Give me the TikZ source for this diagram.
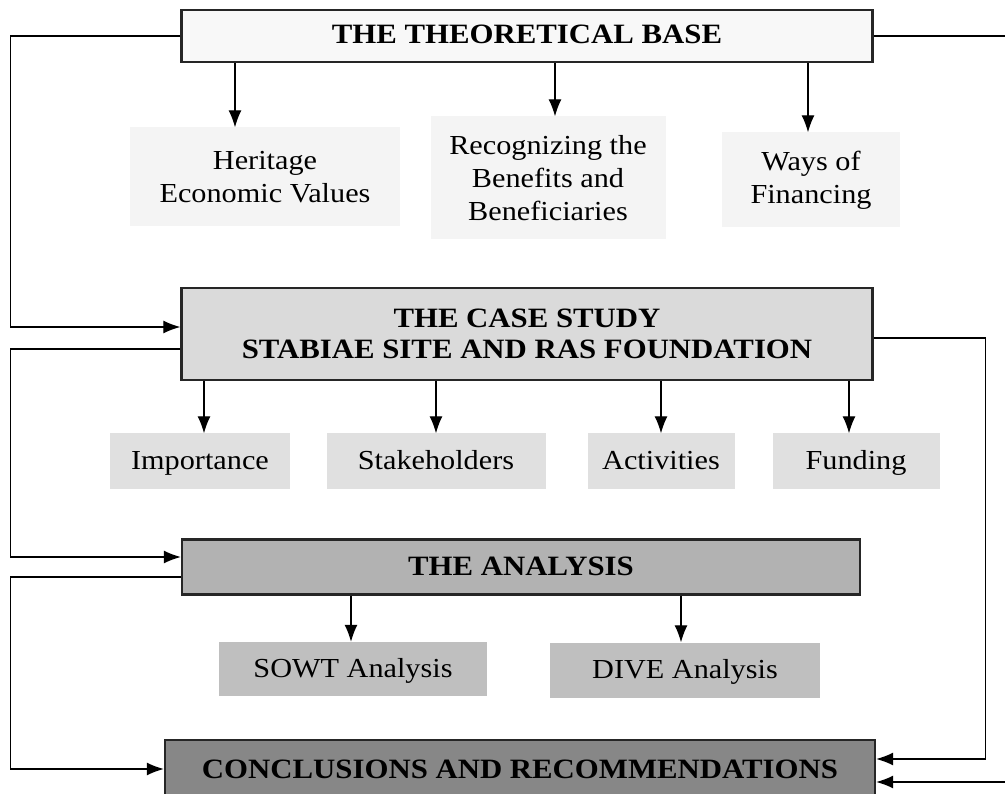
\documentclass[tikz,border=0pt]{standalone}
\usepackage{fontspec}
\setmainfont{Liberation Serif}[FakeStretch=1.1]
\usetikzlibrary{arrows.meta}

\definecolor{basefill}{HTML}{F8F8F8}
\definecolor{ideafill}{HTML}{F4F4F4}
\definecolor{casefill}{HTML}{DADADA}
\definecolor{partfill}{HTML}{E0E0E0}
\definecolor{analysisfill}{HTML}{B2B2B2}
\definecolor{toolfill}{HTML}{BFBFBF}
\definecolor{endfill}{HTML}{878787}

\tikzset{
    stagebox/.style = {draw = black!85, line width = 2.4pt, inner sep = 0pt, align = center,
        font = \bfseries\fontsize{28}{31}\selectfont},
    topicbox/.style = {inner sep = 0pt, align = center, font = \fontsize{27.5}{33}\selectfont},
    oneline/.style = {text height = 18pt, text depth = 2pt},
    flow/.style = {line width = 1.2pt, -{Latex[length = 17pt, width = 13pt]}},
}

\begin{document}
\begin{tikzpicture}[x = 1pt, y = -1pt]
        \useasboundingbox (0,0) rectangle (1005,794);
        \clip (0,0) rectangle (1005,794);

        % the four stages
        \node [stagebox, oneline, fill = basefill, minimum width = 691pt, minimum height = 52pt] (base) at (527,36) {THE THEORETICAL BASE};
        \node [stagebox, fill = casefill, minimum width = 691pt, minimum height = 92pt] (case) at (527,334) {THE CASE STUDY\\STABIAE SITE AND RAS FOUNDATION};
        \node [stagebox, oneline, fill = analysisfill, minimum width = 678pt, minimum height = 55pt] (analysis) at (521,567) {THE ANALYSIS};
        \node [stagebox, oneline, fill = endfill, minimum width = 710pt, minimum height = 60pt] (conclusions) at (520,770) {CONCLUSIONS AND RECOMMENDATIONS};

        % topics of the theoretical base
        \node [topicbox, fill = ideafill, minimum width = 270pt, minimum height = 99pt] (values) at (265,177) {Heritage\\Economic Values};
        \node [topicbox, fill = ideafill, minimum width = 235pt, minimum height = 123pt] (benefits) at (548,178) {Recognizing the\\Benefits and\\Beneficiaries};
        \node [topicbox, fill = ideafill, minimum width = 178pt, minimum height = 95pt] (financing) at (811,180) {Ways of\\Financing};

        % topics of the case study
        \node [topicbox, oneline, fill = partfill, minimum width = 180pt, minimum height = 55pt] (importance) at (200,461) {Importance};
        \node [topicbox, oneline, fill = partfill, minimum width = 219pt, minimum height = 55pt] (stakeholders) at (436,461) {Stakeholders};
        \node [topicbox, oneline, fill = partfill, minimum width = 147pt, minimum height = 55pt] (activities) at (661,461) {Activities};
        \node [topicbox, oneline, fill = partfill, minimum width = 167pt, minimum height = 55pt] (funding) at (856,461) {Funding};

        % tools of the analysis
        \node [topicbox, oneline, fill = toolfill, minimum width = 268pt, minimum height = 54pt] (sowt) at (353,669) {SOWT Analysis};
        \node [topicbox, oneline, fill = toolfill, minimum width = 270pt, minimum height = 55pt] (dive) at (685,670) {DIVE Analysis};

        % down arrows
        \draw [flow] ([xshift = -30pt]values.north |- base.south) -- ([xshift = -30pt]values.north);
        \draw [flow] ([xshift = 7pt]benefits.north |- base.south) -- ([xshift = 7pt]benefits.north);
        \draw [flow] ([xshift = -3pt]financing.north |- base.south) -- ([xshift = -3pt]financing.north);

        \draw [flow] ([xshift = 4pt]importance.north |- case.south) -- ([xshift = 4pt]importance.north);
        \draw [flow] (stakeholders.north |- case.south) -- (stakeholders.north);
        \draw [flow] (activities.north |- case.south) -- (activities.north);
        \draw [flow] ([xshift = -7pt]funding.north |- case.south) -- ([xshift = -7pt]funding.north);

        \draw [flow] ([xshift = -2pt]sowt.north |- analysis.south) -- ([xshift = -2pt]sowt.north);
        \draw [flow] ([xshift = -4pt]dive.north |- analysis.south) -- ([xshift = -4pt]dive.north);

        % loops on the left
        \draw [flow] (base.west) -- ++(-170,0) |- ([yshift = 7pt]case.west);
        \draw [flow] ([yshift = -15pt]case.west) -- ++(-170,0) |- ([yshift = 10pt]analysis.west);
        \draw [flow] ([yshift = -10pt]analysis.west) -- ++(-170,0) |- ([yshift = 1pt]conclusions.west);

        % loops on the right
        \draw [flow] ([yshift = -4pt]case.east) -- ++(112,0) |- ([yshift = 11pt]conclusions.east);
        \draw [flow] (base.east) -- ++(140,0) |- ([yshift = -12pt]conclusions.east);
    \end{tikzpicture}
\end{document}
